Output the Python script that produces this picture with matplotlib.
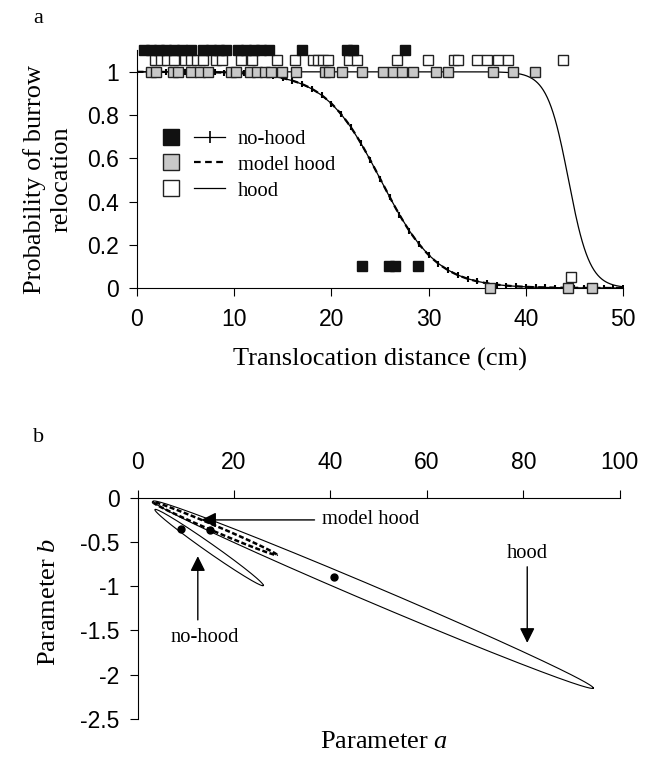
import numpy as np
import matplotlib
matplotlib.use("Agg")
import matplotlib.pyplot as plt
from matplotlib.lines import Line2D
from matplotlib.legend_handler import HandlerTuple

plt.rcParams["mathtext.fontset"] = "custom"
plt.rcParams["mathtext.it"] = "Liberation Serif:italic"
plt.rcParams["mathtext.rm"] = "Liberation Serif"

# ---------------- data ----------------
# panel a: observations
nohood_x_top = [0.7, 1.5, 2.3, 3.0, 3.8, 4.6, 5.6, 6.8, 7.6, 8.4, 9.2, 10.4, 11.2, 12.0, 12.8, 13.6, 17.0, 21.6, 22.2, 27.6]
nohood_x_low = [23.1, 25.9, 26.5, 28.9]
open_x_top = [1.85, 2.5, 3.1, 3.8, 4.9, 5.6, 6.2, 6.8, 8.1, 8.8, 10.7, 11.8, 14.4, 16.3, 18.1, 18.6, 19.1, 19.7,
              21.8, 22.6, 26.7, 29.9, 32.6, 33.0, 35.0, 36.0, 37.1, 38.2, 43.8]
open_x_low = [44.6]
gray_x_top = [1.5, 1.95, 3.7, 4.25, 5.6, 6.5, 7.3, 9.7, 10.2, 11.6, 12.4, 13.2, 13.8, 14.9, 16.4, 19.3, 19.8,
              21.1, 23.1, 25.3, 26.3, 27.3, 28.4, 30.8, 32.0, 36.6, 38.7, 40.9]
gray_x_low = [36.3, 44.3, 46.8]
y_nohood_top, y_nohood_low = 1.1, 0.1
y_open_top, y_open_low = 1.055, 0.05
y_gray_top, y_gray_low = 1.0, 0.0

# logistic fits p = 1/(1+exp(-(a + b x)))
fit_nohood = (8.7, -0.347)
fit_model = (8.7, -0.347)
fit_hood = (40.7, -0.917)

# panel b: parameter estimates and confidence ellipses
est_a = [9.1, 15.0, 40.8]
est_b = [-0.355, -0.36, -0.89]
# ellipse: tip1 (a,b), tip2 (a,b), vertical half-thickness
ell_hood = ((3.2, -0.04), (94.5, -2.15), 0.10)
ell_nohood = ((3.6, -0.135), (26.1, -0.99), 0.06)
ell_model = ((3.2, -0.05), (28.9, -0.645), 0.035)

xticks_a = [0, 10, 20, 30, 40, 50]
yticks_a = [0, 0.2, 0.4, 0.6, 0.8, 1]
yticklabels_a = ["0", "0.2", "0.4", "0.6", "0.8", "1"]
xticks_b = [0, 20, 40, 60, 80, 100]
yticks_b = [0, -0.5, -1, -1.5, -2, -2.5]
yticklabels_b = ["0", "-0.5", "-1", "-1.5", "-2", "-2.5"]

SANS = "Liberation Sans"
SERIF = "Liberation Serif"
GRAY = "#c8c8c8"
TICK_FS = 16.5
LABEL_FS = 19
NOTE_FS = 14.8

fig = plt.figure(figsize=(6.58, 7.60), dpi=100)

# ---------------- panel a ----------------
ax = fig.add_axes([0.208, 0.621, 0.739, 0.313])
ax.set_xlim(0, 50)
ax.set_ylim(0, 1.1)
for s in ["top", "right"]:
    ax.spines[s].set_visible(False)

def logistic(a, b, x):
    return 1.0 / (1.0 + np.exp(-(a + b * x)))

xx = np.linspace(0, 50, 501)
ax.plot(xx, logistic(*fit_hood, xx), color="black", lw=0.9, zorder=2)
ax.plot(xx, logistic(*fit_model, xx), color="black", lw=1.6, ls=(0, (3, 2)), zorder=2)
xi = np.arange(0, 51, 1.0)
ax.plot(xi, logistic(*fit_nohood, xi), color="black", lw=0.9, marker="|", ms=5, mew=1.5, zorder=2)

msz = 7.2
ax.plot(gray_x_top, [y_gray_top] * len(gray_x_top), ls="none", marker="s", ms=msz, mfc=GRAY, mec="#222222", mew=1.0, clip_on=False, zorder=3)
ax.plot(gray_x_low, [y_gray_low] * len(gray_x_low), ls="none", marker="s", ms=msz, mfc=GRAY, mec="#222222", mew=1.0, clip_on=False, zorder=3)
ax.plot(open_x_top, [y_open_top] * len(open_x_top), ls="none", marker="s", ms=msz, mfc="white", mec="#222222", mew=1.0, clip_on=False, zorder=3)
ax.plot(open_x_low, [y_open_low] * len(open_x_low), ls="none", marker="s", ms=msz, mfc="white", mec="#222222", mew=1.0, clip_on=False, zorder=3)
ax.plot(nohood_x_top, [y_nohood_top] * len(nohood_x_top), ls="none", marker="s", ms=msz, mfc="#111111", mec="#111111", mew=1.0, clip_on=False, zorder=4)
ax.plot(nohood_x_low, [y_nohood_low] * len(nohood_x_low), ls="none", marker="s", ms=msz, mfc="#111111", mec="#111111", mew=1.0, clip_on=False, zorder=4)

ax.set_xticks(xticks_a)
ax.set_yticks(yticks_a)
ax.set_yticklabels(yticklabels_a)
ax.tick_params(direction="out", length=6, width=0.8, labelsize=TICK_FS)
ax.tick_params(axis="x", pad=8.5)
ax.tick_params(axis="y", pad=7)
for t in ax.get_xticklabels() + ax.get_yticklabels():
    t.set_fontfamily(SANS)
ax.set_xlabel("Translocation distance (cm)", fontfamily=SERIF, fontsize=LABEL_FS)
ax.xaxis.set_label_coords(0.5, -0.25)
ax.set_ylabel("Probability of burrow\nrelocation", fontfamily=SERIF, fontsize=LABEL_FS, linespacing=1.3)
ax.yaxis.set_label_coords(-0.132, 0.458)

h_nh = (Line2D([], [], ls="none", marker="s", ms=12, mfc="#111111", mec="#111111"),
        Line2D([], [], color="black", lw=0.9, marker="|", ms=8, mew=1.2))
h_mh = (Line2D([], [], ls="none", marker="s", ms=12, mfc=GRAY, mec="#222222"),
        Line2D([], [], color="black", lw=1.6, ls=(0, (3, 2))))
h_h = (Line2D([], [], ls="none", marker="s", ms=12, mfc="white", mec="#222222"),
       Line2D([], [], color="black", lw=0.9))
leg = ax.legend([h_nh, h_mh, h_h], ["no-hood", "model hood", "hood"],
                handler_map={tuple: HandlerTuple(ndivide=None, pad=0.4)},
                loc="upper left", bbox_to_anchor=(0.0, 0.745), frameon=False,
                prop={"family": SERIF, "size": NOTE_FS}, handlelength=3.4, labelspacing=0.32,
                handletextpad=0.6)

fig.text(0.05, 0.976, "a", fontfamily=SERIF, fontsize=16, va="center")

# ---------------- panel b ----------------
bx = fig.add_axes([0.209, 0.054, 0.733, 0.291])
bx.set_xlim(0, 100)
bx.set_ylim(-2.5, 0)
for s in ["bottom", "right"]:
    bx.spines[s].set_visible(False)
bx.xaxis.set_ticks_position("top")
bx.xaxis.set_label_position("bottom")
bx.set_xticks(xticks_b)
bx.set_yticks(yticks_b)
bx.set_yticklabels(yticklabels_b)
bx.tick_params(direction="out", length=6, width=0.8, labelsize=TICK_FS)
bx.tick_params(axis="x", pad=11)
bx.tick_params(axis="y", pad=7)
for t in bx.get_xticklabels() + bx.get_yticklabels():
    t.set_fontfamily(SANS)

def ellipse(spec):
    (a1, b1), (a2, b2), h = spec
    t = np.linspace(0, 2 * np.pi, 400)
    ca, cb = (a1 + a2) / 2, (b1 + b2) / 2
    da, db = (a2 - a1) / 2, (b2 - b1) / 2
    return ca + np.cos(t) * da, cb + np.cos(t) * db + np.sin(t) * h

ea, eb = ellipse(ell_hood)
bx.plot(ea, eb, color="black", lw=0.8)
ea, eb = ellipse(ell_nohood)
bx.plot(ea, eb, color="black", lw=0.8)
ea, eb = ellipse(ell_model)
bx.plot(ea, eb, color="black", lw=1.8, ls=(0, (2, 1)))
bx.plot(est_a, est_b, ls="none", marker="o", ms=5, color="black")

apr = dict(arrowstyle="-|>,head_length=0.9,head_width=0.45", color="black", lw=1.0, shrinkA=0, shrinkB=0)
bx.annotate("", xy=(13.2, -0.25), xytext=(36.7, -0.25), arrowprops=apr)
bx.text(38.2, -0.25, "model hood", fontfamily=SERIF, fontsize=NOTE_FS, va="center", ha="left")
bx.annotate("", xy=(12.5, -0.66), xytext=(12.5, -1.38), arrowprops=apr)
bx.text(13.9, -1.58, "no-hood", fontfamily=SERIF, fontsize=NOTE_FS, va="center", ha="center")
bx.annotate("", xy=(80.8, -1.64), xytext=(80.8, -0.78), arrowprops=apr)
bx.text(80.8, -0.63, "hood", fontfamily=SERIF, fontsize=NOTE_FS, va="center", ha="center")

bx.set_xlabel("Parameter $\\mathit{a}$", fontfamily=SERIF, fontsize=LABEL_FS)
bx.xaxis.set_label_coords(0.51, -0.055)
bx.set_ylabel("Parameter $\\mathit{b}$", fontfamily=SERIF, fontsize=LABEL_FS)
bx.yaxis.set_label_coords(-0.16, 0.53)

fig.text(0.05, 0.424, "b", fontfamily=SERIF, fontsize=16, va="center")

fig.savefig("out.png", dpi=100)
